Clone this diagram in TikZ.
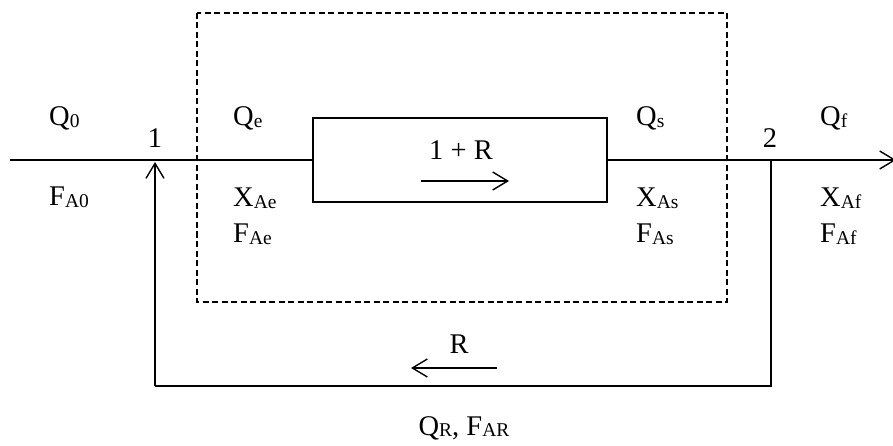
\documentclass[tikz,border=0pt]{standalone}
\usepackage{fontspec}
\setmainfont{Liberation Serif}
\usetikzlibrary{arrows.meta}
\newcommand{\mysub}[1]{\raisebox{-0.07em}{\fontsize{19.5}{22}\selectfont #1}}
\begin{document}
\begin{tikzpicture}[x=1pt,y=-1pt,
  flow/.style={line width=1.5pt},
  tip/.style={-{Straight Barb[length=15pt,width=18pt,line width=1.4pt]}},
  lbl/.style={inner sep=0pt,anchor=base west,font=\fontsize{28.5}{33}\selectfont},
  clbl/.style={inner sep=0pt,anchor=base,font=\fontsize{28.5}{33}\selectfont},
  envelope/.style={draw,line width=1.2pt,dash pattern=on 6pt off 3.5pt},
  reactorbox/.style={draw,line width=1.5pt,minimum width=294pt,minimum height=84pt,inner sep=0pt}]
\useasboundingbox (0,0) rectangle (893,446);
% control volume
\draw[envelope] (197,13) rectangle (727,302);
% reactor
\node[reactorbox] (reactor) at (460,160) {};
\coordinate (feed) at (10,160);
\coordinate (mix) at (155,160);
\coordinate (split) at (771,160);
\coordinate (out) at (896,160);
\coordinate (recl) at (155,386);
\coordinate (recr) at (771,386);
\draw[flow] (feed) -- (reactor.west);
\draw[flow] (reactor.east) -- (split);
\draw[flow,tip] (split) -- (out);
\draw[flow] (split) -- (recr) -- (recl);
\draw[flow,tip] (recl) -- (155,162);
% internal arrows
\coordinate (ia) at (421,181);
\coordinate (ib) at (509,181);
\draw[flow,tip] (ia) -- (ib);
\coordinate (ra) at (497,368);
\coordinate (rb) at (411,368);
\draw[flow,tip] (ra) -- (rb);
% labels
\node[lbl] (q0) at (49,126) {Q\mysub{0}};
\node[lbl] (fa0) at (49,206) {F\mysub{A0}};
\node[clbl] (n1) at (155,148) {1};
\node[clbl] (n2) at (770,148) {2};
\node[lbl] (qe) at (233,126) {Q\mysub{e}};
\node[lbl] (xae) at (233,207) {X\mysub{Ae}};
\node[lbl] (fae) at (233,243) {F\mysub{Ae}};
\node[lbl] (qs) at (636,126) {Q\mysub{s}};
\node[lbl] (xas) at (636,207) {X\mysub{As}};
\node[lbl] (fas) at (636,243) {F\mysub{As}};
\node[lbl] (qf) at (820,126) {Q\mysub{f}};
\node[lbl] (xaf) at (820,207) {X\mysub{Af}};
\node[lbl] (faf) at (820,243) {F\mysub{Af}};
\node[clbl] (onepr) at (461,160) {1 + R};
\node[clbl] (rl) at (459,353) {R};
\node[clbl] (qr) at (464,435) {Q\mysub{R}, F\mysub{AR}};
\end{tikzpicture}
\end{document}
